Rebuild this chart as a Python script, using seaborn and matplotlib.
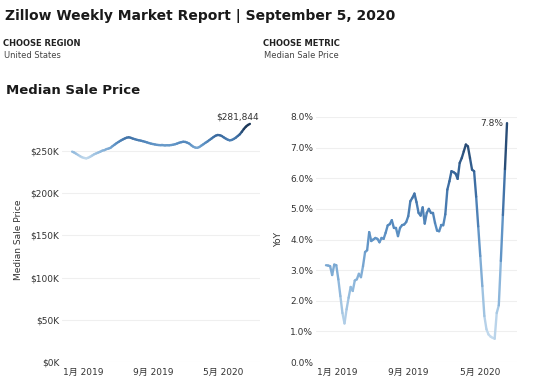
import pandas as pd
import seaborn as sns
import matplotlib
matplotlib.use("Agg")
import matplotlib.pyplot as plt
from matplotlib.ticker import FuncFormatter

# weekly series, week ending saturdays
week_start = "2018-11-24"
n_weeks = 89

# median sale price, in thousands of dollars
price_k = [
    249.0, 248.0, 246.5, 245.0, 243.5, 242.3, 241.5, 241.0, 241.8, 243.0,
    244.5, 246.0, 247.0, 248.0, 249.0, 250.2, 250.8, 252.0, 252.6, 253.5,
    255.5, 257.2, 259.0, 260.5, 262.0, 263.3, 264.5, 265.5, 266.0, 265.4,
    264.5, 263.8, 263.0, 262.5, 262.0, 261.4, 260.7, 260.0, 259.2, 258.5,
    258.0, 257.5, 257.0, 256.8, 256.5, 256.5, 256.4, 256.6, 256.5, 256.8,
    257.2, 257.8, 258.6, 259.5, 260.2, 260.7, 260.5, 259.6, 258.5, 256.5,
    254.8, 253.8, 253.5, 254.5, 256.2, 257.8, 259.5, 261.0, 262.8, 264.5,
    266.3, 267.8, 268.7, 268.5, 267.6, 266.0, 264.5, 263.2, 262.4, 262.8,
    264.0, 265.5, 267.5, 269.5, 272.5, 275.8, 278.5, 280.5, 281.844,
]

# year over year change, percent
yoy_pct = [
    3.16, 3.15, 3.13, 2.84, 3.18, 3.16, 2.70, 2.15, 1.60, 1.26,
    1.72, 2.10, 2.45, 2.32, 2.66, 2.70, 2.88, 2.77, 3.13, 3.59,
    3.65, 4.24, 3.95, 4.00, 4.05, 4.02, 3.91, 4.05, 4.02, 4.22,
    4.46, 4.50, 4.63, 4.38, 4.38, 4.11, 4.38, 4.47, 4.49, 4.57,
    4.76, 5.25, 5.36, 5.50, 5.22, 4.87, 4.78, 5.05, 4.52, 4.87,
    5.00, 4.87, 4.87, 4.54, 4.29, 4.27, 4.46, 4.46, 4.82, 5.63,
    5.90, 6.23, 6.20, 6.15, 5.98, 6.50, 6.66, 6.88, 7.10, 7.04,
    6.66, 6.28, 6.23, 5.40, 4.43, 3.46, 2.48, 1.50, 1.07, 0.90,
    0.83, 0.79, 0.76, 1.60, 1.85, 3.30, 4.80, 6.30, 7.80,
]

tick_dates = ["2019-01-01", "2019-09-01", "2020-05-01"]
tick_labels = ["1月 2019", "9月 2019", "5月 2020"]

sns.set_theme(style="white")
plt.rcParams["font.family"] = ["DejaVu Sans", "Noto Sans CJK JP"]

W, H = 544, 389
fig = plt.figure(figsize=(W / 100, H / 100), dpi=100)


def fx(px):
    return px / W


def fy(py):
    return 1 - py / H


blues = sns.blend_palette(["#c9deef", "#8fb8dc", "#5a8fc3", "#3a6a9f", "#1d3859"], as_cmap=True)
dates = pd.date_range(week_start, periods=n_weeks, freq="7D")


def segments(values):
    # one little line per pair of weeks so the colour can follow the value
    rows = []
    for i in range(len(values) - 1):
        level = (values[i] + values[i + 1]) / 2
        rows.append((i, dates[i], values[i], level))
        rows.append((i, dates[i + 1], values[i + 1], level))
    return pd.DataFrame(rows, columns=["seg", "date", "value", "level"])


def style_axis(ax, ylabel, pad_days):
    for s in ax.spines.values():
        s.set_visible(False)
    ax.grid(axis="y", color="#efefef", lw=0.8)
    ax.grid(axis="x", visible=False)
    ax.tick_params(length=0, labelsize=6.5, labelcolor="#333333")
    ax.tick_params(axis="y", pad=2)
    ax.tick_params(axis="x", pad=4)
    ax.set_xticks(pd.to_datetime(tick_dates))
    ax.set_xticklabels(tick_labels)
    ax.set_xlim(dates[0] - pd.Timedelta(days=pad_days), dates[-1] + pd.Timedelta(days=pad_days))
    ax.set_xlabel("")
    ax.set_ylabel(ylabel, fontsize=6.5, color="#333333", labelpad=5)


# 左: median sale price
ax1 = fig.add_axes([fx(62), fy(362), fx(198), 245 / H])
sns.lineplot(data=segments(price_k), x="date", y="value", hue="level", units="seg",
             estimator=None, palette=blues, hue_norm=(240, 278), legend=False,
             lw=1.7, solid_capstyle="round", ax=ax1)
ax1.set_ylim(0, 290)
ax1.set_yticks([0, 50, 100, 150, 200, 250])
ax1.yaxis.set_major_formatter(FuncFormatter(lambda v, _: f"${v:.0f}K"))
style_axis(ax1, "Median Sale Price", 35)
ax1.annotate(f"${price_k[-1] * 1000:,.0f}", (dates[-1], price_k[-1]),
             xytext=(-12, 7), textcoords="offset pixels", ha="center", va="center",
             fontsize=6.5, color="#333333")

# 右: YoY
ax2 = fig.add_axes([fx(316), fy(362), fx(201), 245 / H])
sns.lineplot(data=segments(yoy_pct), x="date", y="value", hue="level", units="seg",
             estimator=None, palette=blues, hue_norm=(0.7, 7.8), legend=False,
             lw=1.7, solid_capstyle="round", ax=ax2)
ax2.set_ylim(0, 8)
ax2.set_yticks(range(0, 9))
ax2.yaxis.set_major_formatter(FuncFormatter(lambda v, _: f"{v:.1f}%"))
style_axis(ax2, "YoY", 34)
ax2.annotate(f"{yoy_pct[-1]:.1f}%", (dates[-1], yoy_pct[-1]),
             xytext=(-4, 0), textcoords="offset pixels", ha="right", va="center",
             fontsize=6.5, color="#333333")

# header
fig.text(fx(5), fy(16), "Zillow Weekly Market Report | September 5, 2020",
         fontsize=10, fontweight="bold", color="#1a1a1a", va="center")
fig.text(fx(3), fy(44), "CHOOSE REGION", fontsize=6, fontweight="bold", color="#222222", va="center")
fig.text(fx(4), fy(55), "United States", fontsize=6, color="#444444", va="center")
fig.text(fx(263), fy(44), "CHOOSE METRIC", fontsize=6, fontweight="bold", color="#222222", va="center")
fig.text(fx(264), fy(55), "Median Sale Price", fontsize=6, color="#444444", va="center")
fig.text(fx(6), fy(91), "Median Sale Price", fontsize=9.5, fontweight="bold", color="#1a1a1a", va="center")

fig.savefig("out.png", dpi=100)
